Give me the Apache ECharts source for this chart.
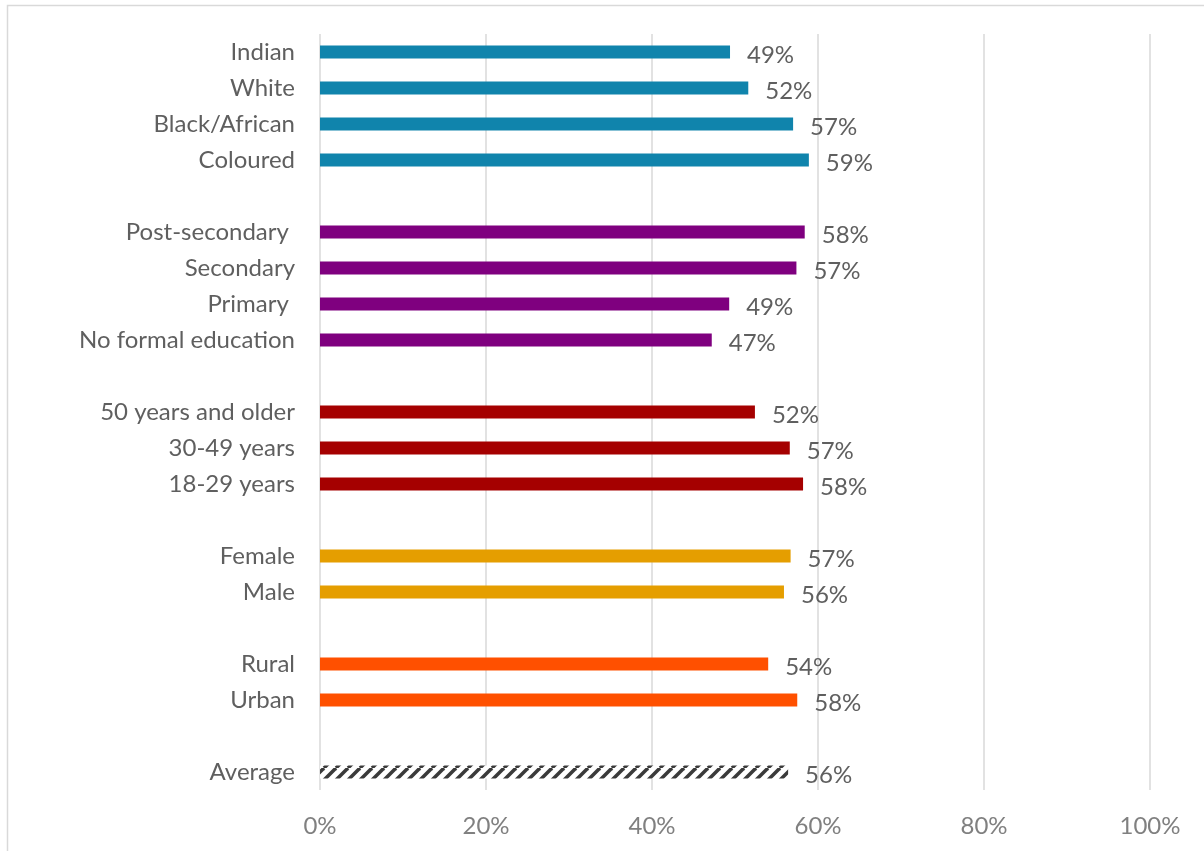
<!DOCTYPE html>
<html>
<head>
<meta charset="utf-8">
<script src="https://cdn.jsdelivr.net/npm/echarts@6/dist/echarts.min.js"></script>
<style>
  html, body { margin: 0; padding: 0; background: #fff; }
  #chart { width: 1204px; height: 851px; }
</style>
</head>
<body>
<div id="chart"></div>
<script>
// categories top to bottom, '' rows are the gaps between groups
var categories = ['Indian', 'White', 'Black/African', 'Coloured', '',
  'Post-secondary ', 'Secondary', 'Primary ', 'No formal education', '',
  '50 years and older', '30-49 years', '18-29 years', '',
  'Female', 'Male', '',
  'Rural', 'Urban', '',
  'Average'];
var values = [49.4, 51.6, 57.0, 58.9, null,
  58.4, 57.4, 49.3, 47.2, null,
  52.4, 56.6, 58.2, null,
  56.7, 55.9, null,
  54.0, 57.5, null,
  56.4];
var groups = ['race', 'race', 'race', 'race', '',
  'edu', 'edu', 'edu', 'edu', '',
  'age', 'age', 'age', '',
  'sex', 'sex', '',
  'area', 'area', '',
  'avg'];
var xTicks = [0, 20, 40, 60, 80, 100];

// hatch for the average bar
function hatch() {
  var s = 12;
  var c = document.createElement('canvas');
  c.width = s; c.height = s;
  var g = c.getContext('2d');
  g.fillStyle = '#ffffff';
  g.fillRect(0, 0, s, s);
  g.strokeStyle = '#3A3A3A';
  g.lineWidth = 3.5;
  for (var k = -s; k <= 2 * s; k += s) {
    g.beginPath();
    g.moveTo(k, s);
    g.lineTo(k + s, 0);
    g.stroke();
  }
  return c;
}

var colours = {
  race: '#1084AC',
  edu: '#7F007F',
  age: '#A50000',
  sex: '#E59E00',
  area: '#FF5000',
  avg: { image: hatch(), repeat: 'repeat' }
};

var font = 'Lato, "Open Sans", sans-serif';
var myChart = echarts.init(document.getElementById('chart'));

myChart.setOption({
  animation: false,
  grid: { left: 320, right: 54, top: 34, bottom: 61, containLabel: false },
  graphic: [{
    type: 'rect',
    shape: { x: 7.5, y: 5.5, width: 1300, height: 1000 },
    style: { fill: 'none', stroke: '#D9D9D9', lineWidth: 1.5 },
    silent: true
  }],
  xAxis: {
    type: 'value',
    min: 0, max: 100, interval: 20,
    axisLine: { show: false },
    axisTick: { show: false },
    splitLine: { lineStyle: { color: '#D9D9D9', width: 1.5 } },
    axisLabel: {
      margin: 24,
      color: '#808080',
      fontFamily: font,
      fontSize: 24,
      formatter: function (v) { return xTicks.indexOf(v) >= 0 ? v + '%' : ''; }
    }
  },
  yAxis: {
    type: 'category',
    inverse: true,
    data: categories,
    axisLine: { show: false },
    axisTick: { show: false },
    axisLabel: {
      margin: 25,
      color: '#5F5F5F',
      fontFamily: font,
      fontSize: 24
    }
  },
  series: [{
    type: 'bar',
    barWidth: 13,
    data: values.map(function (v, i) {
      return { value: v, itemStyle: { color: colours[groups[i]] } };
    }),
    label: {
      show: true,
      position: 'right',
      distance: 17,
      offset: [0, 3],
      color: '#5F5F5F',
      fontFamily: font,
      fontSize: 24,
      formatter: function (p) { return p.value == null ? '' : Math.round(p.value) + '%'; }
    }
  }]
});
window.onresize = function () {
  myChart.resize();
};
</script>
</body>
</html>
